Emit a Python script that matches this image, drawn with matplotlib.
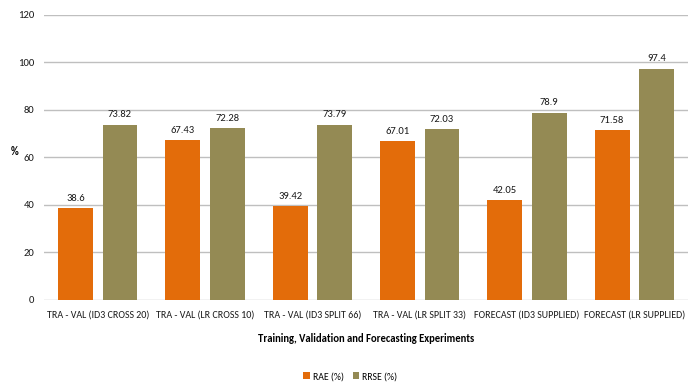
import matplotlib.pyplot as plt
import numpy as np

categories = ['TRA - VAL (ID3 CROSS 20)', 'TRA - VAL (LR CROSS 10)',
              'TRA - VAL (ID3 SPLIT 66)', 'TRA - VAL (LR SPLIT 33)',
              'FORECAST (ID3 SUPPLIED)', 'FORECAST (LR SUPPLIED)']
rae = [38.6, 67.43, 39.42, 67.01, 42.05, 71.58]
rrse = [73.82, 72.28, 73.79, 72.03, 78.9, 97.4]

plt.rcParams['font.family'] = ['Carlito', 'DejaVu Sans']

fig = plt.figure(figsize=(6.88, 3.83), dpi=100)
ax = fig.add_axes([0.064, 0.217, 0.936, 0.744])

x = np.arange(len(categories))
w = 0.325
off = 0.2075
b1 = ax.bar(x - off, rae, w, color='#E36C0A', label='RAE (%)', zorder=3)
b2 = ax.bar(x + off, rrse, w, color='#948A54', label='RRSE (%)', zorder=3)

for bars in (b1, b2):
    for b in bars:
        ax.text(b.get_x() + b.get_width() / 2, b.get_height() + 2.2,
                f'{b.get_height():g}', ha='center', va='bottom', fontsize=7.7,
                color='#1a1a1a')

ax.set_xlim(-0.5, 5.5)
ax.set_ylim(0, 120)
ax.set_yticks(range(0, 121, 20))
ax.set_xticks(x)
ax.set_xticklabels(categories, fontsize=7.2, color='#1a1a1a')
ax.tick_params(axis='y', length=0, labelsize=7.7, pad=7, labelcolor='#1a1a1a')
ax.tick_params(axis='x', length=0, pad=8)
ax.grid(axis='y', color='#BFBFBF', linewidth=1, zorder=0)
for s in ax.spines.values():
    s.set_visible(False)

ax.set_xlabel('Training, Validation and Forecasting Experiments',
              fontsize=7.7, fontweight='bold', labelpad=9)
ax.set_ylabel('%', fontsize=7.7, fontweight='bold', rotation=0)
ax.yaxis.set_label_coords(-0.045, 0.5)

fig.legend(loc='lower center', ncol=2, frameon=False, fontsize=7,
           handlelength=0.7, handleheight=0.8, handletextpad=0.3,
           columnspacing=0.9, bbox_to_anchor=(0.509, -0.018))

fig.savefig('out.png', dpi=100)
